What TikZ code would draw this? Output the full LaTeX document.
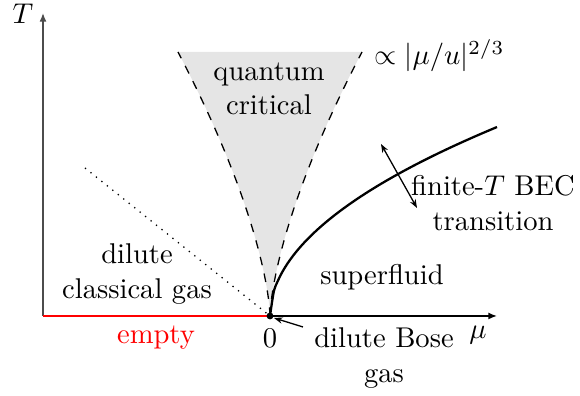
\documentclass[tikz,border=0pt]{standalone}
\usetikzlibrary{arrows.meta}
\begin{document}
\begin{tikzpicture}[x=0.35pt,y=-0.35pt,
  lbl/.style={inner sep=0pt,align=center},
  axis/.style={line width=0.5pt,-{Latex[length=3pt,width=2.4pt]}},
  smallarrow/.style={line width=0.45pt,-{Stealth[length=3pt,width=2.2pt]}},
  dbl/.style={line width=0.45pt,{Stealth[length=3pt,width=2.2pt]}-{Stealth[length=3pt,width=2.2pt]}}]
\useasboundingbox (0,0) rectangle (580,396);
\coordinate (O) at (270,316);
\coordinate (Tend) at (43,13);
\coordinate (Mend) at (497,316);
\coordinate (Ax0) at (43,316);
% shaded quantum critical fan
\fill[black!10] (O) -- plot[domain=0:264,samples=40,smooth] ({270-0.02145*(\x)^1.5},{316-\x})
  -- plot[domain=264:0,samples=40,smooth] ({270+0.02145*(\x)^1.5},{316-\x}) -- cycle;
\draw[dashed,line width=0.45pt] plot[domain=0:264,samples=40,smooth] ({270-0.02145*(\x)^1.5},{316-\x});
\draw[dashed,line width=0.45pt] plot[domain=0:264,samples=40,smooth] ({270+0.02145*(\x)^1.5},{316-\x});
% dotted crossover
\coordinate (Dt) at (85,168);
\draw[dotted,line width=0.45pt] (Dt) -- (O);
% axes
\draw[axis,black!70] (Ax0) -- (Tend);
\draw[axis] (O) -- (Mend);
\draw[red,line width=0.9pt] (Ax0) -- (O);
% BEC line
\draw[line width=0.8pt] plot[domain=0:227,samples=60,smooth] ({270+\x},{316-12.54*sqrt(\x)});
\fill (O) circle (1.2pt);
% labels
\node[lbl] (Tl) at (23,14) {$T$};
\node[lbl] (ml) at (478,335) {$\mu$};
\node[lbl] (zero) at (270,338) {0};
\node[lbl,red] (empty) at (156,338) {empty};
\node[lbl] (dcg) at (137,274) {dilute\\classical gas};
\node[lbl] (sf) at (382,277) {superfluid};
\node[lbl] (qc) at (269,89) {quantum\\critical};
\node[lbl,anchor=base west] (scal) at (374,65) {$\propto|\mu/u|^{2/3}$};
\node[lbl] (bec) at (493,203) {finite-$T$ BEC\\transition};
\node[lbl] (dbg) at (384,358) {dilute Bose\\gas};
% arrows
\coordinate (a1) at (303,327);
\draw[smallarrow] (a1) -- (274,318);
\coordinate (b1) at (381,144);
\coordinate (b2) at (417,208);
\draw[dbl] (b1) -- (b2);
\end{tikzpicture}
\end{document}
